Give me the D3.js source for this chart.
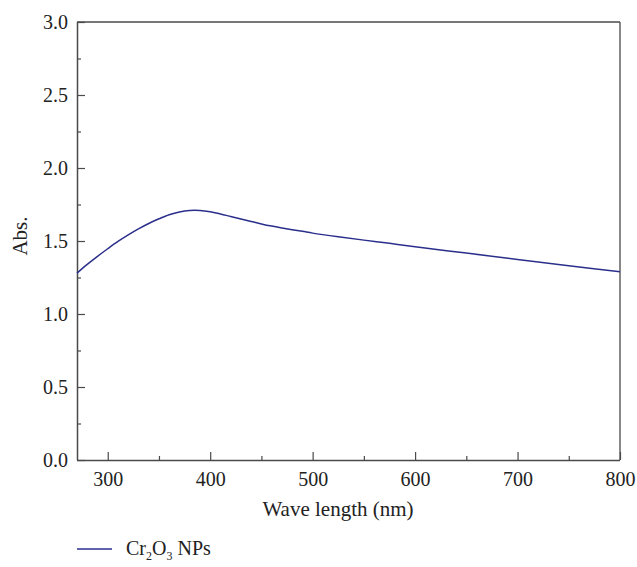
<!DOCTYPE html>
<html>
<head>
<meta charset="utf-8">
<script src="https://cdn.jsdelivr.net/npm/d3@7"></script>
<style>
  html, body { margin: 0; padding: 0; background: #fff; }
  svg { display: block; font-family: "Liberation Serif", "DejaVu Serif", serif; }
</style>
</head>
<body>
<svg id="chart" width="637" height="567"></svg>
<script>
// UV-Vis absorbance spectrum of Cr2O3 nanoparticles
const wavelength = [270, 280, 290, 300, 310, 320, 330, 340, 350, 360, 370, 380, 390, 400,
  410, 420, 430, 440, 450, 460, 470, 480, 490, 500, 525, 550, 575, 600, 650, 700, 750, 800];
const absorbance = [1.28, 1.34, 1.395, 1.447, 1.497, 1.542, 1.583, 1.62, 1.652, 1.68, 1.699, 1.709, 1.709, 1.70,
  1.685, 1.668, 1.651, 1.634, 1.617, 1.602, 1.589, 1.577, 1.566, 1.554, 1.529, 1.506, 1.484, 1.461, 1.417, 1.374, 1.331, 1.29];
const xTicks = [300, 400, 500, 600, 700, 800];
const xMinorTicks = [350, 450, 550, 650, 750];
const yTicks = [0.0, 0.5, 1.0, 1.5, 2.0, 2.5, 3.0];
const yMinorTicks = [0.25, 0.75, 1.25, 1.75, 2.25, 2.75];

const svg = d3.select("#chart");
const plotLeft = 77, plotRight = 620, plotTop = 22, plotBottom = 460;
const axisColor = "#4a4a4a";
const lineColor = "#2b2f8c";
const textColor = "#222";

const x = d3.scaleLinear().domain([270, 800]).range([plotLeft, plotRight]);
const y = d3.scaleLinear().domain([0, 3]).range([plotBottom, plotTop]);

// frame: top and right border lines
svg.append("line").attr("x1", plotLeft).attr("x2", plotRight).attr("y1", plotTop).attr("y2", plotTop)
  .attr("stroke", axisColor).attr("stroke-width", 1.3);
svg.append("line").attr("x1", plotRight).attr("x2", plotRight).attr("y1", plotTop).attr("y2", plotBottom)
  .attr("stroke", axisColor).attr("stroke-width", 1.3);

// bottom axis with inward ticks
const xAxis = svg.append("g").attr("transform", `translate(0,${plotBottom})`)
  .call(d3.axisBottom(x).tickValues(xTicks).tickSize(-8).tickPadding(12).tickFormat(d3.format("d")));
svg.append("g").attr("transform", `translate(0,${plotBottom})`)
  .call(d3.axisBottom(x).tickValues(xMinorTicks).tickSize(-4).tickFormat(""))
  .call(g => g.select(".domain").remove());

// left axis with inward ticks
const yAxis = svg.append("g").attr("transform", `translate(${plotLeft},0)`)
  .call(d3.axisLeft(y).tickValues(yTicks).tickSize(-8).tickPadding(9).tickFormat(d3.format(".1f")));
svg.append("g").attr("transform", `translate(${plotLeft},0)`)
  .call(d3.axisLeft(y).tickValues(yMinorTicks).tickSize(-4).tickFormat(""))
  .call(g => g.select(".domain").remove());

svg.selectAll(".domain").attr("stroke", axisColor).attr("stroke-width", 1.5);
svg.selectAll(".tick line").attr("stroke", axisColor).attr("stroke-width", 1.2);
svg.selectAll(".tick text").attr("font-family", "Liberation Serif, serif")
  .attr("font-size", 20).attr("fill", textColor);

// plain axis lines without the outer tick stubs
xAxis.select(".domain").attr("d", `M${plotLeft},0.5H${plotRight}`);
yAxis.select(".domain").attr("d", `M0.5,${plotBottom}V${plotTop}`);

// absorbance curve
const line = d3.line().x((d, i) => x(wavelength[i])).y(d => y(d)).curve(d3.curveCatmullRom.alpha(0.5));
svg.append("path").datum(absorbance)
  .attr("d", line).attr("fill", "none").attr("stroke", lineColor).attr("stroke-width", 1.5);

// axis titles
svg.append("text").attr("x", 338).attr("y", 516)
  .attr("text-anchor", "middle").attr("font-size", 21).attr("fill", textColor)
  .text("Wave length (nm)");
svg.append("text").attr("transform", "translate(27,236) rotate(-90)")
  .attr("text-anchor", "middle").attr("font-size", 21).attr("fill", textColor)
  .text("Abs.");

// legend
const legend = svg.append("g");
legend.append("line").attr("x1", 77).attr("x2", 112).attr("y1", 549).attr("y2", 549)
  .attr("stroke", lineColor).attr("stroke-width", 1.5);
const lt = legend.append("text").attr("x", 126).attr("y", 555).attr("font-size", 20).attr("fill", textColor);
lt.append("tspan").text("Cr");
lt.append("tspan").attr("font-size", 12).attr("dy", 5).text("2");
lt.append("tspan").attr("dy", -5).text("O");
lt.append("tspan").attr("font-size", 12).attr("dy", 5).text("3");
lt.append("tspan").attr("dy", -5).text(" NPs");
</script>
</body>
</html>
